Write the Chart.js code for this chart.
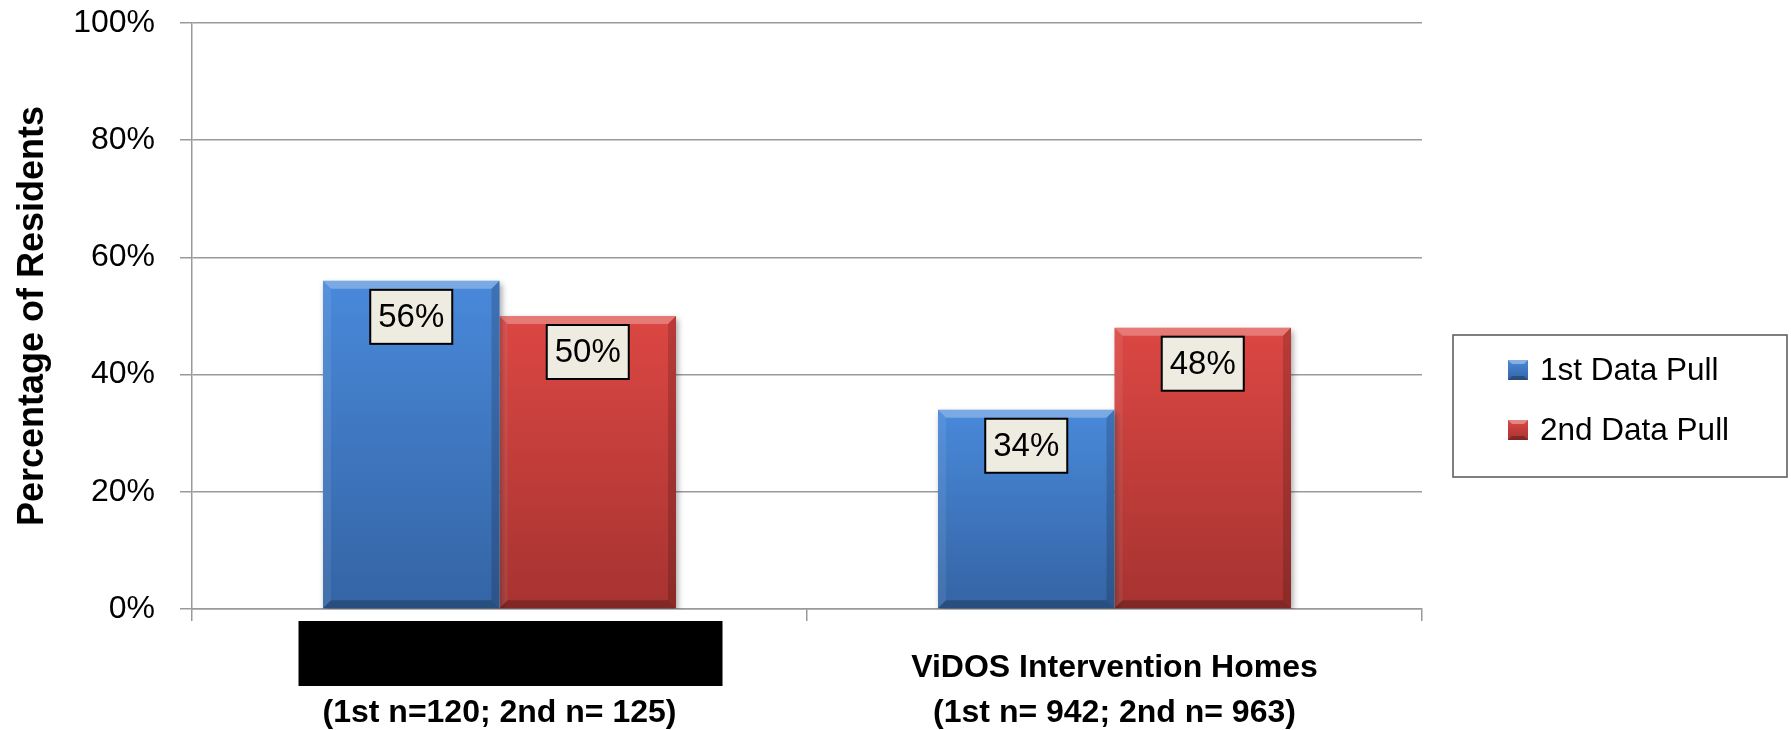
<!DOCTYPE html>
<html>
<head>
<meta charset="utf-8">
<script src="https://cdn.jsdelivr.net/npm/chart.js@4.4.1/dist/chart.umd.min.js"></script>
<style>
  html, body { margin: 0; padding: 0; background: #ffffff; }
  #wrap { width: 1791px; height: 730px; position: relative; }
</style>
</head>
<body>
<div id="wrap"><canvas id="c" width="1791" height="730"></canvas></div>
<script>
// ---- data ----
const categories = [
  [" ", "(1st n=120; 2nd n= 125)"],
  ["ViDOS Intervention Homes", "(1st n= 942; 2nd n= 963)"]
];
const seriesNames = ["1st Data Pull", "2nd Data Pull"];
const firstPull = [56, 34];
const secondPull = [50, 48];
const yTicks = [0, 20, 40, 60, 80, 100];
const yTitle = "Percentage of Residents";

// ---- styling ----
const FONT = "'Liberation Sans', Arial, sans-serif";
const GRID = '#9a9a9a';
const palettes = [
  { top: '#4989DA', bottom: '#3464A4', mid: '#3F79C4' },
  { top: '#DC4743', bottom: '#A63331', mid: '#C63E3B' }
];

function gradFill(idx) {
  return (ctx) => {
    const chart = ctx.chart;
    const p = palettes[idx];
    if (ctx.type !== 'data' || !chart.scales || !chart.scales.y) return p.mid;
    const y = chart.scales.y;
    const t = y.getPixelForValue(ctx.raw);
    const b = y.getPixelForValue(0);
    if (!isFinite(t) || !isFinite(b) || t === b) return p.mid;
    const g = chart.ctx.createLinearGradient(0, t, 0, b);
    g.addColorStop(0, p.top);
    g.addColorStop(1, p.bottom);
    return g;
  };
}

const shadowPlugin = {
  id: 'barShadow',
  beforeDatasetsDraw(chart) {
    const c = chart.ctx;
    c.save();
    c.shadowColor = 'rgba(0,0,0,0.35)';
    c.shadowBlur = 6;
    c.shadowOffsetX = 2;
    c.shadowOffsetY = 3;
  },
  afterDatasetsDraw(chart) { chart.ctx.restore(); }
};

function poly(c, pts, fill) {
  c.beginPath();
  c.moveTo(pts[0][0], pts[0][1]);
  for (let i = 1; i < pts.length; i++) c.lineTo(pts[i][0], pts[i][1]);
  c.closePath();
  c.fillStyle = fill;
  c.fill();
}

const bevelPlugin = {
  id: 'bevel',
  afterDatasetsDraw(chart) {
    const c = chart.ctx;
    const bv = 8;
    chart.data.datasets.forEach((ds, di) => {
      const meta = chart.getDatasetMeta(di);
      meta.data.forEach((el) => {
        const p = el.getProps(['x', 'y', 'base', 'width'], true);
        const l = p.x - p.width / 2, r = p.x + p.width / 2, t = p.y, b = p.base;
        c.save();
        poly(c, [[l, t], [r, t], [r - bv, t + bv], [l + bv, t + bv]], 'rgba(255,255,255,0.28)');
        poly(c, [[l, t], [l + bv, t + bv], [l + bv, b - bv], [l, b]], 'rgba(255,255,255,0.08)');
        poly(c, [[r, t], [r - bv, t + bv], [r - bv, b - bv], [r, b]], 'rgba(0,0,0,0.16)');
        poly(c, [[l, b], [l + bv, b - bv], [r - bv, b - bv], [r, b]], 'rgba(0,0,0,0.22)');
        c.restore();
      });
    });
  }
};

const valueLabelPlugin = {
  id: 'valueLabels',
  afterDatasetsDraw(chart) {
    const c = chart.ctx;
    chart.data.datasets.forEach((ds, di) => {
      const meta = chart.getDatasetMeta(di);
      meta.data.forEach((el, i) => {
        const p = el.getProps(['x', 'y'], true);
        const w = 82, h = 54;
        const bx = p.x - w / 2, by = p.y + 9;
        c.save();
        c.fillStyle = '#EEECE1';
        c.fillRect(bx, by, w, h);
        c.lineWidth = 2;
        c.strokeStyle = '#000';
        c.strokeRect(bx, by, w, h);
        c.fillStyle = '#000';
        c.font = '33px ' + FONT;
        c.textAlign = 'center';
        c.textBaseline = 'middle';
        c.fillText(ds.data[i] + '%', p.x, by + h / 2 + 1);
        c.restore();
      });
    });
  }
};

const redactPlugin = {
  id: 'redact',
  afterDraw(chart) {
    const x = chart.scales.x;
    const cx = x.getPixelForTick(0);
    const c = chart.ctx;
    c.save();
    c.fillStyle = '#000';
    c.fillRect(cx - 201, x.top + 12, 424, 65);
    c.restore();
  }
};

const legendPlugin = {
  id: 'boxLegend',
  afterDraw(chart) {
    const c = chart.ctx;
    const a = chart.chartArea;
    const left = a.right + 31, top = 335, w = 334, h = 142;
    c.save();
    c.fillStyle = '#fff';
    c.fillRect(left, top, w, h);
    c.lineWidth = 1.5;
    c.strokeStyle = '#555';
    c.strokeRect(left, top, w, h);
    chart.data.datasets.forEach((ds, di) => {
      const cy = top + 35 + di * 60;
      const mx = left + 55, ms = 20;
      const p = palettes[di];
      const g = c.createLinearGradient(0, cy - ms / 2, 0, cy + ms / 2);
      g.addColorStop(0, p.top);
      g.addColorStop(1, p.bottom);
      c.fillStyle = g;
      c.fillRect(mx, cy - ms / 2, ms, ms);
      poly(c, [[mx, cy - ms / 2], [mx + ms, cy - ms / 2], [mx + ms - 4, cy - ms / 2 + 4], [mx + 4, cy - ms / 2 + 4]], 'rgba(255,255,255,0.35)');
      poly(c, [[mx, cy + ms / 2], [mx + 4, cy + ms / 2 - 4], [mx + ms - 4, cy + ms / 2 - 4], [mx + ms, cy + ms / 2]], 'rgba(0,0,0,0.25)');
      c.fillStyle = '#000';
      c.font = '31.5px ' + FONT;
      c.textAlign = 'left';
      c.textBaseline = 'middle';
      c.fillText(ds.label, left + 87, cy + 1);
    });
    c.restore();
  }
};

new Chart(document.getElementById('c'), {
  type: 'bar',
  data: {
    labels: categories,
    datasets: [
      { label: seriesNames[0], data: firstPull, backgroundColor: gradFill(0), borderWidth: 0 },
      { label: seriesNames[1], data: secondPull, backgroundColor: gradFill(1), borderWidth: 0 }
    ]
  },
  options: {
    responsive: false,
    animation: false,
    devicePixelRatio: 1,
    layout: { padding: { top: 23, right: 369, left: 0, bottom: 0 } },
    datasets: { bar: { categoryPercentage: 0.574, barPercentage: 1.0 } },
    plugins: {
      legend: { display: false },
      tooltip: { enabled: false }
    },
    scales: {
      x: {
        offset: true,
        grid: { display: true, offset: true, drawOnChartArea: false, tickLength: 12, color: GRID, lineWidth: 1.5 },
        border: { display: true, color: GRID, width: 1.5 },
        ticks: {
          color: '#000',
          padding: 24,
          maxRotation: 0,
          font: { family: FONT, size: 32, weight: 'bold', lineHeight: 1.42 }
        },
        afterFit(s) { s.height = 121; }
      },
      y: {
        min: 0, max: 100,
        afterBuildTicks(s) { s.ticks = yTicks.map(v => ({ value: v })); },
        grid: { color: GRID, lineWidth: 1.5, tickLength: 12 },
        border: { display: true, color: GRID, width: 1.5 },
        ticks: {
          color: '#000',
          padding: 25,
          font: { family: FONT, size: 32 },
          callback: (v) => v + '%'
        },
        title: {
          display: true,
          text: yTitle,
          color: '#000',
          font: { family: FONT, size: 36, weight: 'bold', lineHeight: 1.2 },
          padding: { top: 11, bottom: 0 }
        },
        afterFit(s) { s.width = 192; s.paddingTop = 0; s.paddingBottom = 0; }
      }
    }
  },
  plugins: [shadowPlugin, bevelPlugin, valueLabelPlugin, redactPlugin, legendPlugin]
});
</script>
</body>
</html>
